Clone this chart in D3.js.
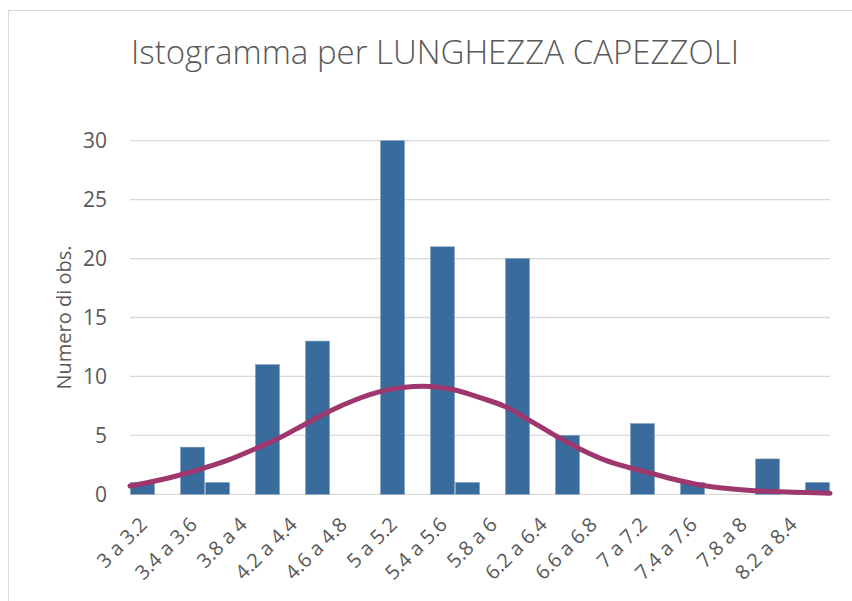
<!DOCTYPE html>
<html>
<head>
<meta charset="utf-8">
<script src="https://cdn.jsdelivr.net/npm/d3@7"></script>
<style>
  body { margin: 0; background: #fff; }
  text { font-family: "Open Sans", "Liberation Sans", sans-serif; fill: #595959; }
</style>
</head>
<body>
<div id="chart"></div>
<script>
// bin labels (0.2 wide bins from 3 to 8.6)
const bins = ["3 a 3.2", "3.2 a 3.4", "3.4 a 3.6", "3.6 a 3.8", "3.8 a 4", "4 a 4.2", "4.2 a 4.4",
  "4.4 a 4.6", "4.6 a 4.8", "4.8 a 5", "5 a 5.2", "5.2 a 5.4", "5.4 a 5.6", "5.6 a 5.8",
  "5.8 a 6", "6 a 6.2", "6.2 a 6.4", "6.4 a 6.6", "6.6 a 6.8", "6.8 a 7", "7 a 7.2",
  "7.2 a 7.4", "7.4 a 7.6", "7.6 a 7.8", "7.8 a 8", "8 a 8.2", "8.2 a 8.4", "8.4 a 8.6"];
const counts = [1, 0, 4, 1, 0, 11, 0, 13, 0, 0, 30, 0, 21, 1, 0, 20, 0, 5, 0, 0, 6, 0, 1, 0, 0, 3, 0, 1];

// normal curve, read at the bin edges 3, 3.2, ... 8.6
const curveX = [3, 3.2, 3.4, 3.6, 3.8, 4, 4.2, 4.4, 4.6, 4.8, 5, 5.2, 5.4, 5.6, 5.8,
  6, 6.2, 6.4, 6.6, 6.8, 7, 7.2, 7.4, 7.6, 7.8, 8, 8.2, 8.4, 8.6];
const curveY = [0.7, 1.13, 1.64, 2.26, 2.97, 3.85, 4.81, 5.95, 7.07, 8.0, 8.71, 9.08, 9.14, 8.85,
  8.2, 7.45, 6.25, 5.0, 3.85, 2.9, 2.25, 1.7, 1.15, 0.72, 0.47, 0.31, 0.21, 0.15, 0.08];

const yTicks = [0, 5, 10, 15, 20, 25, 30];

const W = 852, H = 601;
const plot = { left: 130, right: 830, top: 140.7, bottom: 494.3 };

const svg = d3.select("#chart").append("svg")
  .attr("width", W)
  .attr("height", H);

// chart frame
svg.append("rect")
  .attr("x", 8.5).attr("y", 10.5)
  .attr("width", 860).attr("height", 620)
  .attr("fill", "#fff")
  .attr("stroke", "#d9d9d9");

const x = d3.scaleBand()
  .domain(bins)
  .range([plot.left, plot.right])
  .padding(0);

const xc = d3.scaleLinear()
  .domain([3, 8.6])
  .range([plot.left, plot.right]);

const y = d3.scaleLinear()
  .domain([0, 30])
  .range([plot.bottom, plot.top]);

// gridlines
svg.append("g")
  .selectAll("line")
  .data(yTicks)
  .enter()
  .append("line")
  .attr("x1", plot.left).attr("x2", plot.right)
  .attr("y1", d => y(d)).attr("y2", d => y(d))
  .attr("stroke", "#d9d9d9")
  .attr("stroke-width", 1.3);

// y axis labels
svg.append("g")
  .selectAll("text")
  .data(yTicks)
  .enter()
  .append("text")
  .attr("x", 107)
  .attr("y", d => y(d))
  .attr("dy", "0.36em")
  .attr("text-anchor", "end")
  .style("font-size", "21px")
  .text(d => d);

// bars
svg.append("g")
  .selectAll("rect")
  .data(counts)
  .enter()
  .append("rect")
  .attr("x", (d, i) => x(bins[i]) + 0.5)
  .attr("width", x.bandwidth() - 1)
  .attr("y", d => y(d))
  .attr("height", d => y(0) - y(d))
  .attr("fill", "#396b9c")
  .attr("stroke", "#7f9fbf")
  .attr("stroke-width", 0.6)
  .style("display", d => d > 0 ? null : "none");

// normal curve
const line = d3.line()
  .x((d, i) => xc(curveX[i]))
  .y(d => y(d))
  .curve(d3.curveCatmullRom);

svg.append("path")
  .datum(curveY)
  .attr("d", line)
  .attr("fill", "none")
  .attr("stroke", "#9e376d")
  .attr("stroke-width", 5)
  .attr("stroke-linecap", "round");

// x labels, every other bin
svg.append("g")
  .selectAll("text")
  .data(bins.filter((d, i) => i % 2 === 0))
  .enter()
  .append("text")
  .attr("transform", d => `translate(${x(d) + x.bandwidth() / 2 + 1},521) rotate(-45)`)
  .attr("dy", "0.35em")
  .attr("text-anchor", "end")
  .style("font-size", "20px")
  .text(d => d);

// axis title
svg.append("text")
  .attr("transform", `translate(71,${(plot.top + plot.bottom) / 2}) rotate(-90)`)
  .attr("text-anchor", "middle")
  .style("font-size", "20px")
  .text("Numero di obs.");

// title
svg.append("text")
  .attr("x", 435)
  .attr("y", 64)
  .attr("text-anchor", "middle")
  .style("font-size", "33px")
  .style("font-weight", 300)
  .text("Istogramma per LUNGHEZZA CAPEZZOLI");
</script>
</body>
</html>
